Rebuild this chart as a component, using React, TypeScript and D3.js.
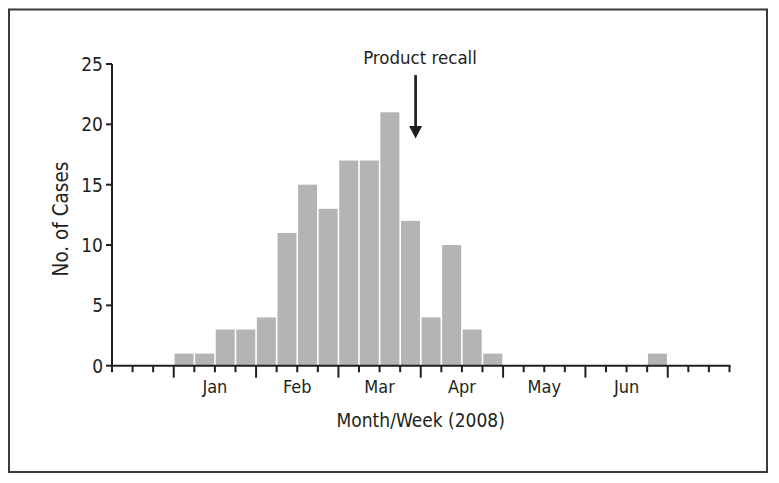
import React from "react";
import * as d3 from "d3";

const weekCases: number[] = [0, 0, 0, 1, 1, 3, 3, 4, 11, 15, 13, 17, 17, 21, 12, 4, 10, 3, 1, 0, 0, 0, 0, 0, 0, 0, 1, 0, 0, 0];
const monthLabels: string[] = ["Jan", "Feb", "Mar", "Apr", "May", "Jun"];
const monthStartWeek: number[] = [3, 7, 11, 15, 19, 23, 27];
const yTicks: number[] = [0, 5, 10, 15, 20, 25];
const recallWeek = 14.75;
const recallLabel = "Product recall";
const xTitle = "Month/Week (2008)";
const yTitle = "No. of Cases";

const W = 779;
const H = 483;
const FONT = "'Liberation Sans Narrow', 'DejaVu Sans Condensed', 'Arial Narrow', sans-serif";

export default function App() {
  const x0 = 112, x1 = 729.5;
  const yBase = 365.7, yTop = 64;
  const x = d3.scaleLinear().domain([0, weekCases.length]).range([x0, x1]);
  const y = d3.scaleLinear().domain([0, 25]).range([yBase, yTop]);
  const ticks = d3.range(0, weekCases.length + 1);
  const barColor = "#b3b4b6";
  const axisColor = "#231f20";
  const ax = x(recallWeek);

  return (
    <div style={{ position: "fixed", left: 0, top: 0, width: W, height: H, background: "#fff" }}>
      <svg width={W} height={H} style={{ display: "block" }}>
        <rect x={9} y={9.5} width={758} height={462.5} fill="none" stroke="#3a3a3a" strokeWidth={2} />
        {weekCases.map((v, i) =>
          v > 0 ? (
            <rect key={i} x={x(i) + 0.8} y={y(v)} width={x(i + 1) - x(i) - 1.6} height={y(0) - y(v)} fill={barColor} />
          ) : null
        )}
        <line x1={x0} x2={x0} y1={yTop} y2={yBase + 1} stroke={axisColor} strokeWidth={2} />
        <line x1={x0 - 1} x2={x1 + 1} y1={yBase} y2={yBase} stroke={axisColor} strokeWidth={2} />
        {yTicks.map((t) => (
          <g key={t}>
            <line x1={x0 - 6} x2={x0} y1={y(t)} y2={y(t)} stroke={axisColor} strokeWidth={2} />
            <text x={x0 - 9} y={y(t)} dy="0.36em" textAnchor="end" fontFamily={FONT} fontSize={19} fill={axisColor}>
              {t}
            </text>
          </g>
        ))}
        {ticks.map((t) => {
          const long = monthStartWeek.includes(t);
          return (
            <line key={t} x1={x(t)} x2={x(t)} y1={yBase} y2={yBase + (long ? 12 : 6.5)} stroke={axisColor} strokeWidth={2} />
          );
        })}
        {monthLabels.map((m, i) => (
          <text
            key={m}
            x={(x(monthStartWeek[i]) + x(monthStartWeek[i + 1])) / 2}
            y={392.5}
            textAnchor="middle"
            fontFamily={FONT}
            fontSize={18}
            fill={axisColor}
          >
            {m}
          </text>
        ))}
        <text x={(x0 + x1) / 2} y={426.7} textAnchor="middle" fontFamily={FONT} fontSize={19} fill={axisColor}>
          {xTitle}
        </text>
        <text
          transform={`translate(68,219) rotate(-90)`}
          textAnchor="middle"
          fontFamily={FONT}
          fontSize={20.5}
          fill={axisColor}
        >
          {yTitle}
        </text>
        <text x={420} y={64} textAnchor="middle" fontFamily={FONT} fontSize={18.5} fill={axisColor}>
          {recallLabel}
        </text>
        <line x1={ax} x2={ax} y1={75} y2={128} stroke={axisColor} strokeWidth={2.7} />
        <path d={`M${ax - 6.5},${126} L${ax + 6.5},${126} L${ax},${138.5} Z`} fill={axisColor} />
      </svg>
    </div>
  );
}
